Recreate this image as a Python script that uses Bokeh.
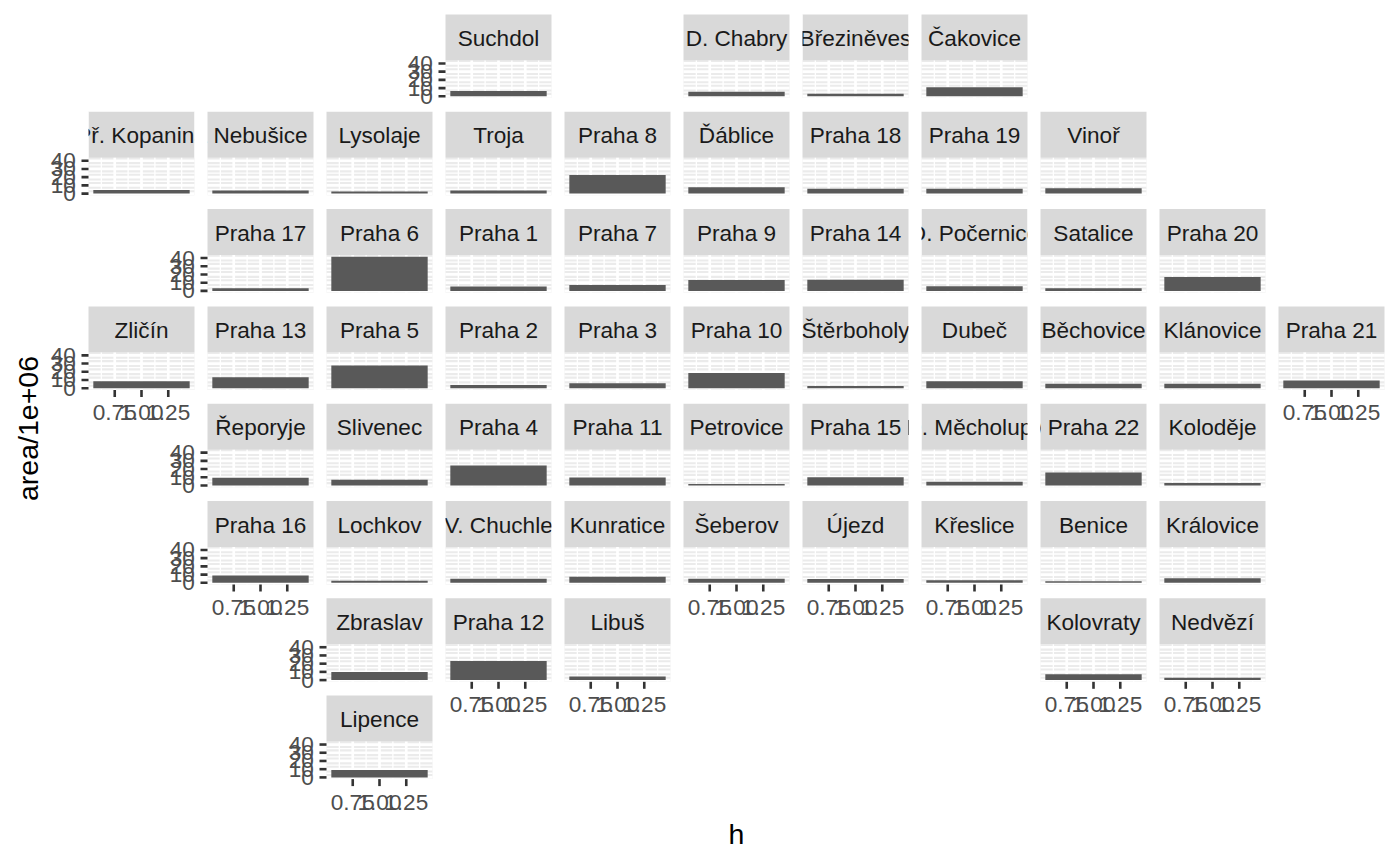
import math
from bokeh.plotting import figure
from bokeh.models import Range1d, Label
from bokeh.core.properties import value
from bokeh.embed import file_html
from bokeh.resources import INLINE

# ---- data: geofacet grid of Prague districts (name, grid column, grid row) and area/1e6 ----
names = [
    "Suchdol", "D. Chabry", "Březiněves", "Čakovice",
    "Př. Kopanina", "Nebušice", "Lysolaje", "Troja", "Praha 8", "Ďáblice", "Praha 18", "Praha 19", "Vinoř",
    "Praha 17", "Praha 6", "Praha 1", "Praha 7", "Praha 9", "Praha 14", "D. Počernice", "Satalice", "Praha 20",
    "Zličín", "Praha 13", "Praha 5", "Praha 2", "Praha 3", "Praha 10", "Štěrboholy", "Dubeč", "Běchovice",
    "Klánovice", "Praha 21",
    "Řeporyje", "Slivenec", "Praha 4", "Praha 11", "Petrovice", "Praha 15", "D. Měcholupy", "Praha 22", "Koloděje",
    "Praha 16", "Lochkov", "V. Chuchle", "Kunratice", "Šeberov", "Újezd", "Křeslice", "Benice", "Královice",
    "Zbraslav", "Praha 12", "Libuš", "Kolovraty", "Nedvězí",
    "Lipence",
]
grid_col = [
    4, 6, 7, 8,
    1, 2, 3, 4, 5, 6, 7, 8, 9,
    2, 3, 4, 5, 6, 7, 8, 9, 10,
    1, 2, 3, 4, 5, 6, 7, 8, 9, 10, 11,
    2, 3, 4, 5, 6, 7, 8, 9, 10,
    2, 3, 4, 5, 6, 7, 8, 9, 10,
    3, 4, 5, 9, 10,
    3,
]
grid_row = [
    1, 1, 1, 1,
    2, 2, 2, 2, 2, 2, 2, 2, 2,
    3, 3, 3, 3, 3, 3, 3, 3, 3,
    4, 4, 4, 4, 4, 4, 4, 4, 4, 4, 4,
    5, 5, 5, 5, 5, 5, 5, 5, 5,
    6, 6, 6, 6, 6, 6, 6, 6, 6,
    7, 7, 7, 7, 7,
    8,
]
area = [
    6.5, 5.5, 3.2, 11.0,
    4.3, 3.7, 2.5, 3.7, 22.5, 7.8, 5.8, 6.0, 6.5,
    3.3, 41.5, 5.5, 7.1, 13.3, 13.5, 5.8, 3.3, 16.9,
    8.5, 13.2, 27.5, 4.0, 6.0, 18.6, 2.8, 8.5, 5.5, 5.5, 9.5,
    9.5, 7.0, 24.2, 9.8, 1.8, 10.0, 4.5, 15.9, 3.0,
    9.0, 2.4, 5.0, 7.5, 5.0, 4.5, 3.0, 2.0, 5.5,
    10.0, 23.3, 4.5, 7.0, 2.8,
    9.0,
]
h_value = 1.0
bar_width = 0.9

y_breaks = [0, 10, 20, 30, 40]
y_labels = ["0", "10", "20", "30", "40"]
y_minor = [5, 15, 25, 35]
x_breaks = [0.75, 1.00, 1.25]
x_labels = ["0.75", "1.00", "1.25"]
x_minor = [0.625, 0.875, 1.125, 1.375]

# ---- layout / style ----
FONT = value("Liberation Sans")
X0, PITCH_X, PW = 88.0, 119.0, 106.0
Y0, PITCH_Y, SH, PH = 14.0, 97.3, 46.0, 37.5
TXT = "22.6px"
TITLE = "28.5px"
TICK_LEN = 7
TICK_W = 2.6
GAP_Y = 12.7
GAP_X = 15.5
MAJ_W, MIN_W = 2.7, 1.35

p = figure(width=1400, height=865, x_range=Range1d(0, 1400), y_range=Range1d(865, 0),
           x_axis_type=None, y_axis_type=None, toolbar_location=None, output_backend="svg",
           min_border=0, outline_line_color=None,
           background_fill_color="white", border_fill_color="white")

n = len(names)
L = [X0 + PITCH_X * (c - 1) for c in grid_col]
R = [l + PW for l in L]
T = [Y0 + PITCH_Y * (r - 1) for r in grid_row]
SB = [t + SH for t in T]
PB = [s + PH for s in SB]

# scales (ggplot-like 5% expansion)
half = bar_width / 2 * 1.1
ymax = max(area)
x_src = Range1d(h_value - half, h_value + half)
y_src = Range1d(-0.05 * ymax, 1.05 * ymax)

# which panels carry axes
left_cell = {}
bottom_cell = {}
for i in range(n):
    r, c = grid_row[i], grid_col[i]
    if r not in left_cell or c < grid_col[left_cell[r]]:
        left_cell[r] = i
    if c not in bottom_cell or r > grid_row[bottom_cell[c]]:
        bottom_cell[c] = i
y_axis_cells = set(left_cell.values())
x_axis_cells = set(bottom_cell.values())

# panel backgrounds
p.quad(left=L, right=R, top=SB, bottom=PB, fill_color="#EBEBEB", line_color=None)

# strips: long labels first so neighbours cover their overflow
long_idx = [i for i in range(n) if len(names[i]) >= 10]
short_idx = [i for i in range(n) if len(names[i]) < 10]
for group in (long_idx, short_idx):
    p.quad(left=[L[i] for i in group], right=[R[i] for i in group],
           top=[T[i] for i in group], bottom=[SB[i] for i in group],
           fill_color="#D9D9D9", line_color=None)
    p.text(x=[(L[i] + R[i]) / 2 for i in group], y=[(T[i] + SB[i]) / 2 + 1 for i in group],
           text=[names[i] for i in group], text_align="center", text_baseline="middle",
           text_font=FONT, text_font_size=TXT, text_color="#1A1A1A")
# white gutters beside overflowing strips
mask_l, mask_r, mask_t, mask_b = [], [], [], []
for i in long_idx:
    mask_l += [L[i] - 12.5, R[i]]
    mask_r += [L[i], R[i] + 12.5]
    mask_t += [T[i], T[i]]
    mask_b += [SB[i], SB[i]]
p.quad(left=mask_l, right=mask_r, top=mask_t, bottom=mask_b, fill_color="white", line_color=None)

for i in range(n):
    sub = p.subplot(x_source=x_src, y_source=y_src,
                    x_target=Range1d(L[i], R[i]), y_target=Range1d(PB[i], SB[i]))
    sub.segment(x0=[x_src.start] * len(y_minor), x1=[x_src.end] * len(y_minor), y0=y_minor, y1=y_minor,
                line_color="white", line_width=MIN_W)
    sub.segment(x0=x_minor, x1=x_minor, y0=[y_src.start] * len(x_minor), y1=[y_src.end] * len(x_minor),
                line_color="white", line_width=MIN_W)
    sub.segment(x0=[x_src.start] * len(y_breaks), x1=[x_src.end] * len(y_breaks), y0=y_breaks, y1=y_breaks,
                line_color="white", line_width=MAJ_W)
    sub.segment(x0=x_breaks, x1=x_breaks, y0=[y_src.start] * len(x_breaks), y1=[y_src.end] * len(x_breaks),
                line_color="white", line_width=MAJ_W)
    sub.vbar(x=[h_value], top=[area[i]], bottom=0, width=bar_width, fill_color="#595959", line_color=None)
    if i in y_axis_cells:
        sub.ray(x=[x_src.start] * len(y_breaks), y=y_breaks, length=TICK_LEN, length_units="screen",
                angle=math.pi, line_color="#333333", line_width=TICK_W)
        sub.text(x=[x_src.start] * len(y_breaks), y=y_breaks, text=y_labels, x_offset=-GAP_Y,
                 text_align="right", text_baseline="middle", text_font=FONT, text_font_size=TXT,
                 text_color="#4D4D4D")
    if i in x_axis_cells:
        sub.ray(x=x_breaks, y=[y_src.start] * len(x_breaks), length=TICK_LEN, length_units="screen",
                angle=-math.pi / 2, line_color="#333333", line_width=TICK_W)
        sub.text(x=x_breaks, y=[y_src.start] * len(x_breaks), text=x_labels, y_offset=GAP_X,
                 text_align="center", text_baseline="top", text_font=FONT, text_font_size=TXT,
                 text_color="#4D4D4D")

p.add_layout(Label(x=27, y=428, text="area/1e+06", angle=math.pi / 2, text_align="center",
                   text_baseline="middle", text_font="Liberation Sans", text_font_size=TITLE,
                   text_color="black"))
p.add_layout(Label(x=736, y=833, text="h", text_align="center", text_baseline="middle",
                   text_font="Liberation Sans", text_font_size=TITLE, text_color="black"))

open("out.html", "w").write(file_html(p, INLINE))
